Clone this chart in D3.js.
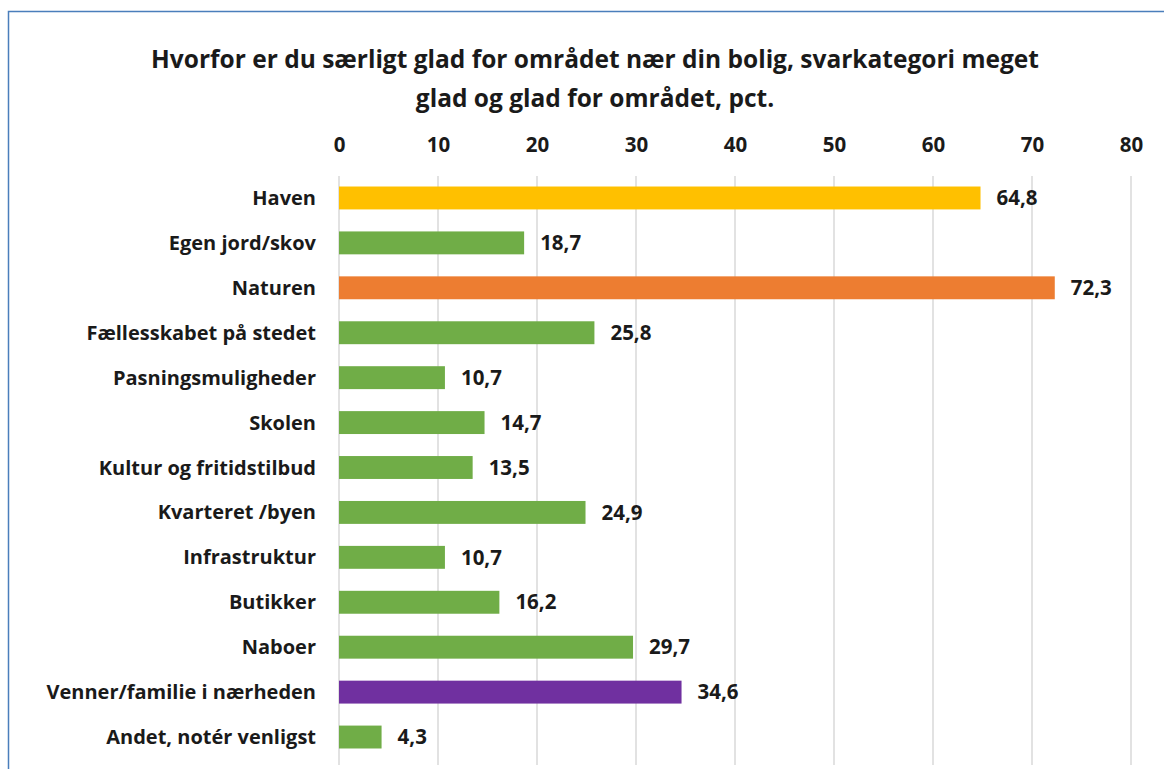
<!DOCTYPE html>
<html lang="da">
<head>
<meta charset="utf-8">
<title>Hvorfor er du særligt glad for området</title>
<script src="https://d3js.org/d3.v7.min.js"></script>
<style>
  body { margin: 0; background: #fff; }
  text { font-family: "Open Sans", sans-serif; font-weight: bold; fill: #1a1a1a; }
</style>
</head>
<body>
<script>
var w = 1164, h = 769;

var categories = ["Haven", "Egen jord/skov", "Naturen", "Fællesskabet på stedet", "Pasningsmuligheder",
  "Skolen", "Kultur og fritidstilbud", "Kvarteret /byen", "Infrastruktur", "Butikker", "Naboer",
  "Venner/familie i nærheden", "Andet, notér venligst"];
var values = [64.8, 18.7, 72.3, 25.8, 10.7, 14.7, 13.5, 24.9, 10.7, 16.2, 29.7, 34.6, 4.3];
var barColors = ["#FFC000", "#70AD47", "#ED7D31", "#70AD47", "#70AD47", "#70AD47", "#70AD47",
  "#70AD47", "#70AD47", "#70AD47", "#70AD47", "#7030A0", "#70AD47"];
var ticks = [0, 10, 20, 30, 40, 50, 60, 70, 80];
var titleLines = ["Hvorfor er du særligt glad for området nær din bolig, svarkategori meget",
  "glad og glad for området, pct."];

var svg = d3.select("body").append("svg").attr("width", w).attr("height", h);

// ramme
svg.append("rect").attr("x", 8.5).attr("y", 11.5).attr("width", 1170).attr("height", 800)
  .attr("fill", "none").attr("stroke", "#4A7EBB").attr("stroke-width", 1.5);

var x = d3.scaleLinear().domain([0, 80]).range([339, 1131]);
var y = d3.scaleBand().domain(categories).range([175.5, 759.5]).paddingInner(0.49).paddingOuter(0.245);

// titel
svg.selectAll(".title").data(titleLines).enter().append("text")
  .attr("x", 595).attr("y", (d, i) => 68 + i * 39)
  .attr("text-anchor", "middle").style("font-size", "24.5px").text(d => d);

// gitterlinjer
svg.selectAll(".grid").data(ticks).enter().append("line")
  .attr("x1", d => x(d)).attr("x2", d => x(d)).attr("y1", 176).attr("y2", 765)
  .attr("stroke", "#D9D9D9").attr("stroke-width", 1.5);

// akse øverst
var axis = svg.append("g").attr("transform", "translate(0,152)")
  .call(d3.axisTop(x).tickValues(ticks).tickSize(0).tickPadding(0));
axis.select(".domain").remove();
axis.selectAll("text").style("font-size", "20.5px").attr("fill", "#1a1a1a");

// kategorier
svg.selectAll(".cat").data(categories).enter().append("text")
  .attr("x", 316).attr("y", d => y(d) + y.bandwidth() / 2).attr("dy", "0.35em")
  .attr("text-anchor", "end").style("font-size", "20px").text(d => d);

// søjler
svg.selectAll(".bar").data(values).enter().append("rect")
  .attr("x", x(0)).attr("y", (d, i) => y(categories[i]))
  .attr("width", d => x(d) - x(0)).attr("height", y.bandwidth())
  .attr("fill", (d, i) => barColors[i]);

// værdier
svg.selectAll(".val").data(values).enter().append("text")
  .attr("x", d => x(d) + 16).attr("y", (d, i) => y(categories[i]) + y.bandwidth() / 2).attr("dy", "0.35em")
  .style("font-size", "20.5px").text(d => d.toFixed(1).replace(".", ","));
</script>
</body>
</html>
